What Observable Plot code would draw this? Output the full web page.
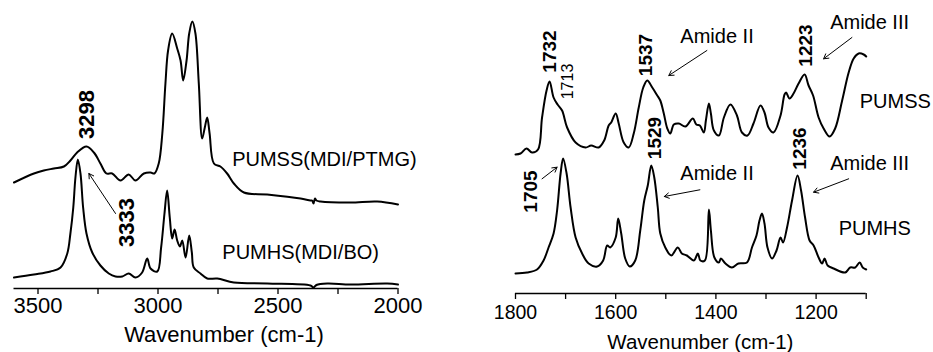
<!DOCTYPE html>
<html><head><meta charset="utf-8">
<script src="https://cdn.jsdelivr.net/npm/d3@7"></script>
<script src="https://cdn.jsdelivr.net/npm/@observablehq/plot@0.6"></script>
<style>
html,body{margin:0;padding:0;background:#fff;}
#wrap{display:flex;width:933px;height:352px;}
#wrap svg{display:block;overflow:visible;}
</style></head><body><div id="wrap"></div>
<script>
const FONT = '"Liberation Sans", Arial, Helvetica, sans-serif';

// ---- Left panel: 3600–2000 cm-1 (arbitrary absorbance units, offset) ----
const pumssHighWn  = [3600,3517,3476,3434,3392,3365,3337,3298,3267,3240,3215,3191,3156,3122,3094,3059,3031,3015,2997,2982,2969,2958,2941,2920,2906,2895,2881,2870,2857,2844,2830,2816,2805,2795,2785,2767,2740,2712,2684,2642,2545,2406,2365,2358,2352,2346,2340,2323,2198,2087,2000];
const pumssHighAbs = [106,115,118,120,122,128,136,142,136,125,115,115,108,114,108,115,116,115,125,155,205,238,255,240,228,208,228,255,267,255,205,150,161,171,155,125,122,115,105,96,94,90,88,88,85,90,88,87,86,87,84];
const pumhsHighWn  = [3600,3517,3448,3406,3378,3365,3353,3344,3334,3323,3312,3298,3274,3240,3205,3177,3149,3122,3094,3066,3045,3031,3003,2987,2973,2962,2951,2941,2931,2920,2909,2899,2885,2870,2859,2851,2823,2795,2753,2684,2545,2365,2352,2340,2295,2198,2045,2000];
const pumhsHighAbs = [11,14,17,21,35,55,81,111,129,115,81,55,36,23,15,12,12,15,11,16,30,20,17,41,75,98,71,50,59,48,42,48,31,53,36,21,15,10,10,6,5,3,1,3.5,5,4,5,4];

// ---- Right panel: 1800–1100 cm-1 ----
const pumssLowWn  = [1800,1790,1778,1767,1755,1747,1738,1732,1724,1716,1707,1697,1680,1660,1649,1634,1623,1614,1609,1600,1594,1584,1574,1564,1554,1545,1537,1527,1517,1511,1504,1497,1491,1484,1474,1461,1446,1439,1432,1424,1420,1414,1410,1404,1394,1384,1371,1358,1348,1337,1325,1311,1303,1295,1285,1271,1263,1260,1253,1245,1235,1223,1215,1206,1195,1185,1173,1162,1148,1135,1125,1115,1105,1100];
const pumssLowAbs = [139,140,145,141,144,176,203,212,196,189,183,166,151,146,148,146,153,168,171,180,170,151,146,160,186,206,213,206,198,193,180,165,160,169,170,167,175,169,168,161,173,190,180,163,158,176,189,178,161,158,170,188,181,166,161,178,199,201,195,200,210,219,208,198,176,165,157,165,193,221,235,240,239,237];
const pumhsLowWn  = [1800,1777,1757,1744,1734,1724,1717,1710,1705,1698,1690,1680,1667,1654,1637,1625,1617,1611,1600,1595,1589,1581,1572,1561,1551,1543,1536,1529,1523,1516,1511,1501,1489,1476,1468,1458,1444,1436,1431,1422,1414,1410,1403,1394,1390,1381,1368,1355,1338,1328,1319,1313,1308,1303,1297,1288,1279,1271,1266,1258,1248,1237,1230,1222,1213,1205,1195,1188,1183,1177,1165,1142,1132,1122,1113,1107,1100];
const pumhsLowAbs = [20,21,24,33,46,60,83,120,135,120,86,56,40,30,27,33,48,46,56,75,60,35,27,33,63,93,108,128,116,86,60,46,38,46,40,38,33,40,33,33,84,63,36,31,35,30,26,30,31,46,58,73,80,70,46,35,43,56,51,66,93,118,103,76,53,48,36,30,35,28,25,21,26,26,31,26,24];

// ---- Axes ----
const leftTicks = [3500,3250,3000,2750,2500,2250,2000];
const leftTickLabels = [3500,3000,2500,2000];
const rightTicks = [1800,1700,1600,1500,1400,1300,1200,1100];
const rightTickLabels = [1800,1600,1400,1200];
const axisTitle = "Wavenumber (cm-1)";

// ---- Annotations ----
const leftPeakLabels = [
  {t:"3298", x:3295, y:174},
  {t:"3333", x:3129, y:66}
];
const leftSeriesLabels = [
  {t:"PUMSS(MDI/PTMG)", x:2691, y:129},
  {t:"PUMHS(MDI/BO)", x:2732, y:35.5}
];
const leftArrows = [{x1:3177, y1:75, x2:3288, y2:115}];

const rightPeakLabels = [
  {t:"1732", x:1731, y:242},
  {t:"1537", x:1539, y:238.5},
  {t:"1223", x:1221, y:248},
  {t:"1529", x:1521, y:155.5},
  {t:"1705", x:1770, y:102},
  {t:"1236", x:1232, y:145}
];
const rightMinorLabels = [{t:"1713", x:1695, y:212}];
const rightTextLabels = [
  {t:"Amide II", x:1471, y:257},
  {t:"Amide III", x:1172, y:270.5},
  {t:"PUMSS", x:1113, y:191.7},
  {t:"Amide II", x:1471, y:119.7},
  {t:"Amide III", x:1172, y:129.7},
  {t:"PUMHS", x:1155, y:64.7}
];
const rightArrows = [
  {x1:1418, y1:243, x2:1494, y2:218},
  {x1:1128.5, y1:256, x2:1185, y2:234.7},
  {x1:1747, y1:114.7, x2:1717, y2:126.3},
  {x1:1432, y1:103.7, x2:1503, y2:97},
  {x1:1135, y1:114.7, x2:1205, y2:101.3}
];

const rows = (wn, a) => wn.map((w, i) => ({wn: w, a: a[i]}));

function axisMarks(ticks, labels, frameH, labelSize, labelDy, titleX, titleSize, titleDy) {
  return [
    Plot.ruleY([0], {stroke: "#000", strokeWidth: 1.5}),
    Plot.tickX(ticks, {x: d => d, stroke: "#000", strokeWidth: 1.3, insetTop: frameH - 6, dy: 6}),
    Plot.text(labels, {x: d => d, text: d => String(d), frameAnchor: "bottom", dy: labelDy, fontSize: labelSize, fontFamily: FONT, fill: "#000", lineAnchor: "middle"}),
    Plot.text([{t: axisTitle, x: titleX}], {x: "x", text: "t", frameAnchor: "bottom", dy: titleDy, fontSize: titleSize, fontFamily: FONT, fill: "#000", lineAnchor: "middle"})
  ];
}

const left = Plot.plot({
  width: 460, height: 352,
  marginLeft: 13.5, marginRight: 62.5, marginTop: 0, marginBottom: 64,
  style: {fontFamily: FONT, color: "#000", background: "#fff", overflow: "visible"},
  x: {domain: [3600, 2000], axis: null},
  y: {domain: [0, 288], axis: null},
  marks: [
    ...axisMarks(leftTicks, leftTickLabels, 288, 22, 17.5, 2725, 22, 46),
    Plot.line(rows(pumssHighWn, pumssHighAbs), {x: "wn", y: "a", curve: "catmull-rom", stroke: "#000", strokeWidth: 2}),
    Plot.line(rows(pumhsHighWn, pumhsHighAbs), {x: "wn", y: "a", curve: "catmull-rom", stroke: "#000", strokeWidth: 2}),
    Plot.text(leftPeakLabels, {x: "x", y: "y", text: "t", rotate: -90, fontWeight: "bold", fontSize: 22, fontFamily: FONT, textAnchor: "middle", lineAnchor: "middle", fill: "#000"}),
    Plot.text(leftSeriesLabels, {x: "x", y: "y", text: "t", fontSize: 20, fontFamily: FONT, textAnchor: "start", lineAnchor: "middle", fill: "#000"}),
    Plot.arrow(leftArrows, {x1: "x1", y1: "y1", x2: "x2", y2: "y2", stroke: "#000", strokeWidth: 1, headLength: 8})
  ]
});

const right = Plot.plot({
  width: 473, height: 352,
  marginLeft: 55, marginRight: 67.3, marginTop: 0, marginBottom: 59,
  style: {fontFamily: FONT, color: "#000", background: "#fff", overflow: "visible"},
  x: {domain: [1800, 1100], axis: null},
  y: {domain: [0, 293], axis: null},
  marks: [
    ...axisMarks(rightTicks, rightTickLabels, 293, 19.5, 19.5, 1431, 20.5, 49),
    Plot.line(rows(pumssLowWn, pumssLowAbs), {x: "wn", y: "a", curve: "catmull-rom", stroke: "#000", strokeWidth: 2}),
    Plot.line(rows(pumhsLowWn, pumhsLowAbs), {x: "wn", y: "a", curve: "catmull-rom", stroke: "#000", strokeWidth: 2}),
    Plot.text(rightPeakLabels, {x: "x", y: "y", text: "t", rotate: -90, fontWeight: "bold", fontSize: 19, fontFamily: FONT, textAnchor: "middle", lineAnchor: "middle", fill: "#000"}),
    Plot.text(rightMinorLabels, {x: "x", y: "y", text: "t", rotate: -90, fontSize: 16, fontFamily: FONT, textAnchor: "middle", lineAnchor: "middle", fill: "#000"}),
    Plot.text(rightTextLabels, {x: "x", y: "y", text: "t", fontSize: 20, fontFamily: FONT, textAnchor: "start", lineAnchor: "middle", fill: "#000"}),
    Plot.arrow(rightArrows, {x1: "x1", y1: "y1", x2: "x2", y2: "y2", stroke: "#000", strokeWidth: 1, headLength: 8})
  ]
});

document.getElementById("wrap").append(left, right);
</script></body></html>
